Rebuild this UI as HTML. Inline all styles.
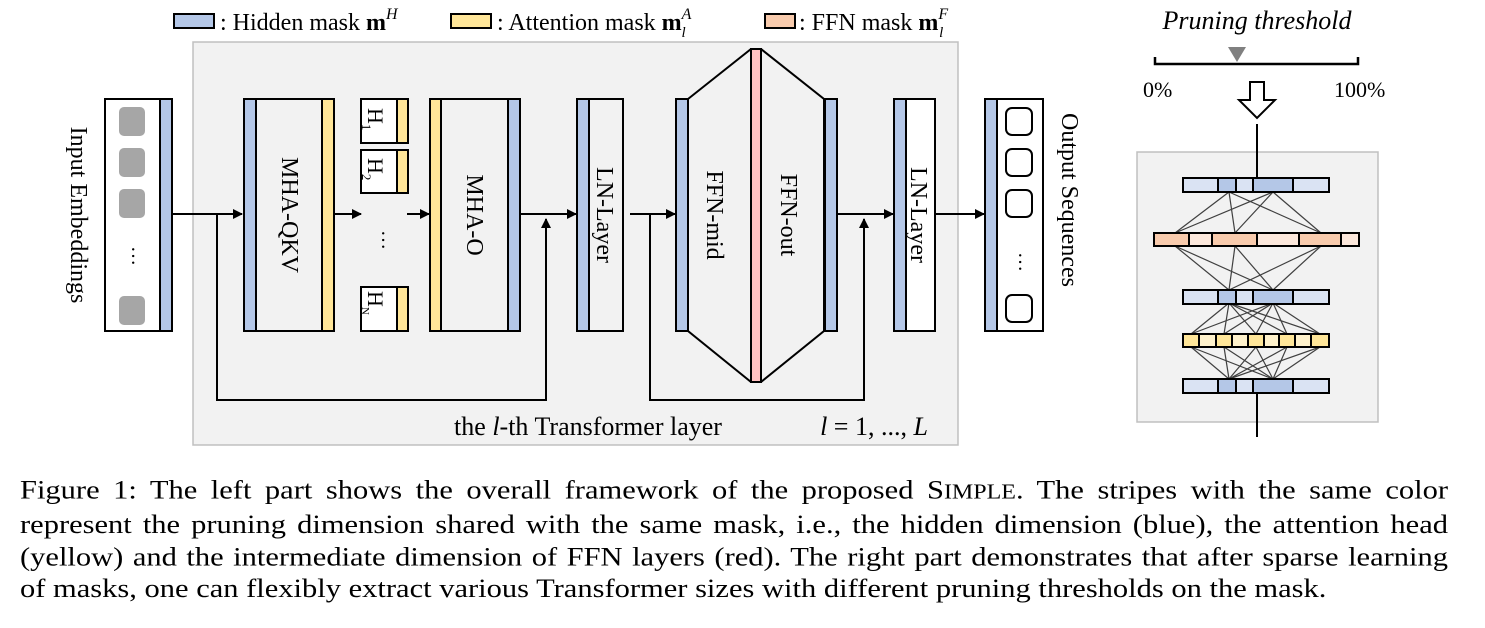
<!DOCTYPE html>
<html><head><meta charset="utf-8"><style>
body{margin:0;background:#fff;width:1485px;height:628px;overflow:hidden;position:relative}
svg{position:absolute;left:0;top:0}
.cap{position:absolute;left:20px;top:474px;width:1428px;font-family:"Liberation Serif",serif;font-size:30.5px;line-height:36.4px;color:#000;transform:scaleY(0.88);transform-origin:0 0}
.cap div{text-align:justify;text-align-last:justify;white-space:nowrap;overflow:visible}
.cap div.l{text-align-last:left}
</style></head><body>
<svg width="1485" height="470" viewBox="0 0 1485 470" font-family="Liberation Serif, serif">
<defs><marker id="a" markerWidth="10" markerHeight="10" refX="9" refY="5" orient="auto" markerUnits="userSpaceOnUse"><path d="M0,0 L10,5 L0,10 z" fill="#000"/></marker></defs>
<rect x="174" y="14" width="40" height="14" fill="#b4c7e7" stroke="#000" stroke-width="2"/>
<text x="220" y="30" font-size="24">: Hidden mask <tspan font-weight="bold">m</tspan><tspan font-style="italic" font-size="16" dy="-11">H</tspan></text>
<rect x="451" y="14" width="40" height="14" fill="#ffe699" stroke="#000" stroke-width="2"/>
<text x="497" y="30" font-size="24">: Attention mask <tspan font-weight="bold">m</tspan><tspan font-style="italic" font-size="16" dy="-11">A</tspan><tspan font-style="italic" font-size="15" dx="-10" dy="18">l</tspan></text>
<rect x="765" y="14" width="30" height="14" fill="#f8cbad" stroke="#000" stroke-width="2"/>
<text x="799" y="30" font-size="24">: FFN mask <tspan font-weight="bold">m</tspan><tspan font-style="italic" font-size="16" dy="-11">F</tspan><tspan font-style="italic" font-size="15" dx="-9" dy="18">l</tspan></text>
<rect x="193" y="42" width="765" height="403" fill="#f2f2f2" stroke="#c0c0c0" stroke-width="1.5"/>
<rect x="105" y="99" width="55" height="232" fill="#fff" stroke="#000" stroke-width="2"/>
<rect x="160" y="99" width="12" height="232" fill="#b4c7e7" stroke="#000" stroke-width="2"/>
<g fill="#a6a6a6"><rect x="119" y="107" width="26" height="29" rx="5"/><rect x="119" y="148" width="26" height="29" rx="5"/><rect x="119" y="189" width="26" height="29" rx="5"/><rect x="119" y="296" width="26" height="29" rx="5"/></g>
<text x="132" y="256" font-size="20" text-anchor="middle" transform="rotate(90 132 256)">…</text>
<text transform="translate(71 215) rotate(90)" font-size="24" text-anchor="middle">Input Embeddings</text>
<g stroke="#000" stroke-width="2" fill="none">
<line x1="172" y1="214" x2="242" y2="214" marker-end="url(#a)"/>
<polyline points="217,214 217,400 546,400 546,219" marker-end="url(#a)"/>
<line x1="334" y1="214" x2="361" y2="214" marker-end="url(#a)"/>
<line x1="407" y1="214" x2="429" y2="214" marker-end="url(#a)"/>
<line x1="520" y1="214" x2="576" y2="214" marker-end="url(#a)"/>
<line x1="630" y1="214" x2="675" y2="214" marker-end="url(#a)"/>
<polyline points="650,214 650,400 864,400 864,219" marker-end="url(#a)"/>
<line x1="837" y1="214" x2="893" y2="214" marker-end="url(#a)"/>
<line x1="935" y1="214" x2="984" y2="214" marker-end="url(#a)"/>
</g>
<rect x="244" y="99" width="90" height="232" fill="#f2f2f2" stroke="#000" stroke-width="2"/>
<rect x="244" y="99" width="12" height="232" fill="#b4c7e7" stroke="#000" stroke-width="2"/>
<rect x="322" y="99" width="12" height="232" fill="#ffe699" stroke="#000" stroke-width="2"/>
<text transform="translate(282 215) rotate(90)" font-size="24" text-anchor="middle">MHA-QKV</text>
<g stroke="#000" stroke-width="2"><rect x="361" y="99" width="47" height="44" fill="#fff"/><rect x="397" y="99" width="11" height="44" fill="#ffe699"/>
<rect x="361" y="150" width="47" height="43" fill="#fff"/><rect x="397" y="150" width="11" height="43" fill="#ffe699"/>
<rect x="361" y="287" width="47" height="44" fill="#fff"/><rect x="397" y="287" width="11" height="44" fill="#ffe699"/></g>
<text transform="translate(368 108) rotate(90)" font-size="22">H<tspan font-size="13" dy="6">1</tspan></text>
<text transform="translate(368 158) rotate(90)" font-size="22">H<tspan font-size="13" dy="6">2</tspan></text>
<text transform="translate(368 291) rotate(90)" font-size="22">H<tspan font-size="11" dy="6">N</tspan></text>
<text x="382" y="240" font-size="20" text-anchor="middle" transform="rotate(90 382 240)">…</text>
<rect x="430" y="99" width="90" height="232" fill="#f2f2f2" stroke="#000" stroke-width="2"/>
<rect x="430" y="99" width="11" height="232" fill="#ffe699" stroke="#000" stroke-width="2"/>
<rect x="508" y="99" width="12" height="232" fill="#b4c7e7" stroke="#000" stroke-width="2"/>
<text transform="translate(467 215) rotate(90)" font-size="24" text-anchor="middle">MHA-O</text>
<rect x="577" y="99" width="46" height="232" fill="#f2f2f2" stroke="#000" stroke-width="2"/>
<rect x="577" y="99" width="12" height="232" fill="#b4c7e7" stroke="#000" stroke-width="2"/>
<text transform="translate(597 215) rotate(90)" font-size="24" text-anchor="middle">LN-Layer</text>
<polygon points="688,99 751,49 761,49 824,99 824,331 761,382 751,382 688,331" fill="#f2f2f2" stroke="#000" stroke-width="2"/>
<rect x="676" y="99" width="12" height="232" fill="#b4c7e7" stroke="#000" stroke-width="2"/>
<rect x="825" y="99" width="12" height="232" fill="#b4c7e7" stroke="#000" stroke-width="2"/>
<rect x="751" y="49" width="10" height="333" fill="#ffc0c0" stroke="#000" stroke-width="2"/>
<text transform="translate(707 215) rotate(90)" font-size="24" text-anchor="middle">FFN-mid</text>
<text transform="translate(781 215) rotate(90)" font-size="24" text-anchor="middle">FFN-out</text>
<rect x="894" y="99" width="41" height="232" fill="#fff" stroke="#000" stroke-width="2"/>
<rect x="894" y="99" width="12" height="232" fill="#b4c7e7" stroke="#000" stroke-width="2"/>
<text transform="translate(911 215) rotate(90)" font-size="24" text-anchor="middle">LN-Layer</text>
<rect x="985" y="99" width="58" height="232" fill="#fff" stroke="#000" stroke-width="2"/>
<rect x="985" y="99" width="12" height="232" fill="#b4c7e7" stroke="#000" stroke-width="2"/>
<g fill="none" stroke="#000" stroke-width="2"><rect x="1006" y="108" width="26" height="27" rx="6"/><rect x="1006" y="149" width="26" height="27" rx="6"/><rect x="1006" y="190" width="26" height="27" rx="6"/><rect x="1006" y="295" width="26" height="27" rx="6"/></g>
<text x="1019" y="262" font-size="20" text-anchor="middle" transform="rotate(90 1019 262)">…</text>
<text transform="translate(1062 200) rotate(90)" font-size="24" text-anchor="middle">Output Sequences</text>
<text x="588" y="435" font-size="26" text-anchor="middle">the <tspan font-style="italic">l</tspan>-th Transformer layer</text>
<text x="874" y="435" font-size="26" text-anchor="middle"><tspan font-style="italic">l</tspan> = 1, ..., <tspan font-style="italic">L</tspan></text>
<text x="1257" y="29" font-size="26" font-style="italic" text-anchor="middle">Pruning threshold</text>
<polyline points="1155,57 1155,64 1358,64 1358,57" fill="none" stroke="#000" stroke-width="2.5"/>
<polygon points="1228,47 1246,47 1237,62" fill="#808080"/>
<text x="1143" y="97" font-size="22">0%</text>
<text x="1334" y="97" font-size="22">100%</text>
<polygon points="1250,82 1264,82 1264,100 1275,100 1257,118 1239,100 1250,100" fill="#fff" stroke="#000" stroke-width="2"/>
<rect x="1137" y="152" width="241" height="270" fill="#f2f2f2" stroke="#c0c0c0" stroke-width="1.5"/>
<g stroke="#000" stroke-width="2"><line x1="1257" y1="124" x2="1257" y2="178"/><line x1="1257" y1="392" x2="1257" y2="437"/></g>
<g stroke="#404040" stroke-width="1.2">
<line x1="1229" y1="192" x2="1175" y2="233"/><line x1="1229" y1="192" x2="1235" y2="233"/><line x1="1229" y1="192" x2="1321" y2="233"/>
<line x1="1273" y1="192" x2="1175" y2="233"/><line x1="1273" y1="192" x2="1235" y2="233"/><line x1="1273" y1="192" x2="1321" y2="233"/>
<line x1="1175" y1="246" x2="1229" y2="290"/><line x1="1235" y1="246" x2="1229" y2="290"/><line x1="1321" y1="246" x2="1229" y2="290"/>
<line x1="1175" y1="246" x2="1273" y2="290"/><line x1="1235" y1="246" x2="1273" y2="290"/><line x1="1321" y1="246" x2="1273" y2="290"/>
<line x1="1229" y1="303" x2="1191" y2="334"/><line x1="1229" y1="303" x2="1224" y2="334"/><line x1="1229" y1="303" x2="1256" y2="334"/><line x1="1229" y1="303" x2="1287" y2="334"/><line x1="1229" y1="303" x2="1320" y2="334"/>
<line x1="1273" y1="303" x2="1191" y2="334"/><line x1="1273" y1="303" x2="1224" y2="334"/><line x1="1273" y1="303" x2="1256" y2="334"/><line x1="1273" y1="303" x2="1287" y2="334"/><line x1="1273" y1="303" x2="1320" y2="334"/>
<line x1="1191" y1="347" x2="1229" y2="379"/><line x1="1224" y1="347" x2="1229" y2="379"/><line x1="1256" y1="347" x2="1229" y2="379"/><line x1="1287" y1="347" x2="1229" y2="379"/><line x1="1320" y1="347" x2="1229" y2="379"/>
<line x1="1191" y1="347" x2="1273" y2="379"/><line x1="1224" y1="347" x2="1273" y2="379"/><line x1="1256" y1="347" x2="1273" y2="379"/><line x1="1287" y1="347" x2="1273" y2="379"/><line x1="1320" y1="347" x2="1273" y2="379"/>
</g>
<g stroke="#000" stroke-width="2">
<g id="hb"><rect x="1183" y="178" width="35" height="14" fill="#dae3f3"/><rect x="1218" y="178" width="18" height="14" fill="#b4c7e7"/><rect x="1236" y="178" width="17" height="14" fill="#dae3f3"/><rect x="1253" y="178" width="40" height="14" fill="#b4c7e7"/><rect x="1293" y="178" width="36" height="14" fill="#dae3f3"/></g>
<use href="#hb" y="112"/><use href="#hb" y="201"/>
<rect x="1154" y="233" width="35" height="13" fill="#f8cbad"/><rect x="1189" y="233" width="23" height="13" fill="#fce8dc"/><rect x="1212" y="233" width="45" height="13" fill="#f8cbad"/><rect x="1257" y="233" width="42" height="13" fill="#fce8dc"/><rect x="1299" y="233" width="42" height="13" fill="#f8cbad"/><rect x="1341" y="233" width="18" height="13" fill="#fce8dc"/>
<rect x="1183" y="334" width="16" height="13" fill="#ffe699"/><rect x="1199" y="334" width="17" height="13" fill="#fff2cc"/><rect x="1216" y="334" width="16" height="13" fill="#ffe699"/><rect x="1232" y="334" width="16" height="13" fill="#fff2cc"/><rect x="1248" y="334" width="16" height="13" fill="#ffe699"/><rect x="1264" y="334" width="15" height="13" fill="#fff2cc"/><rect x="1279" y="334" width="16" height="13" fill="#ffe699"/><rect x="1295" y="334" width="16" height="13" fill="#fff2cc"/><rect x="1311" y="334" width="18" height="13" fill="#ffe699"/>
</g>
</svg>
<div class="cap">
<div>Figure 1: The left part shows the overall framework of the proposed S<span style="font-size:24px">IMPLE</span>. The stripes with the same color</div>
<div>represent the pruning dimension shared with the same mask, i.e., the hidden dimension (blue), the attention head</div>
<div>(yellow) and the intermediate dimension of FFN layers (red). The right part demonstrates that after sparse learning</div>
<div class="l">of masks, one can flexibly extract various Transformer sizes with different pruning thresholds on the mask.</div>
</div>
</body></html>
